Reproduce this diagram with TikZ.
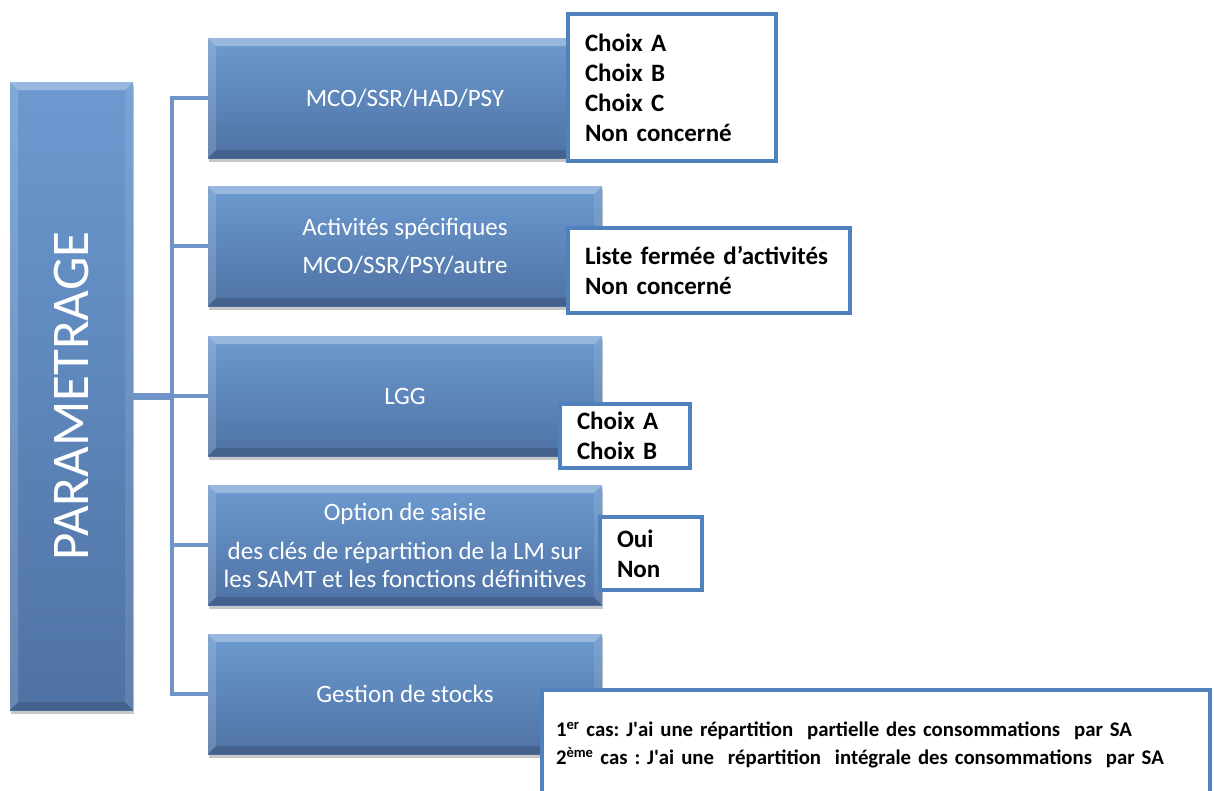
\documentclass[tikz,border=0pt]{standalone}
\usepackage{fontspec}
\setmainfont{Carlito}
\usetikzlibrary{shadows}
\definecolor{boxtop}{RGB}{108,154,208}
\definecolor{boxbot}{RGB}{79,114,164}
\definecolor{edgeblue}{RGB}{79,129,189}
\definecolor{connblue}{RGB}{110,148,200}
\frenchspacing
\tikzset{
  bevel/.style={path picture={
    \path (path picture bounding box.south west) coordinate (pA)
          (path picture bounding box.north east) coordinate (pB);
    \fill[white,opacity=.30] (pA|-pB) -- (pB) -- ([xshift=-8pt,yshift=-8pt]pB) -- ([xshift=8pt,yshift=-8pt]pA|-pB) -- cycle;
    \fill[white,opacity=.15] (pA|-pB) -- ([xshift=8pt,yshift=-8pt]pA|-pB) -- ([xshift=8pt,yshift=8pt]pA) -- (pA) -- cycle;
    \fill[white,opacity=.10] (pB) -- ([xshift=-8pt,yshift=-8pt]pB) -- ([xshift=-8pt,yshift=8pt]pB|-pA) -- (pB|-pA) -- cycle;
    \fill[black,opacity=.15] (pA) -- ([xshift=8pt,yshift=8pt]pA) -- ([xshift=-8pt,yshift=8pt]pB|-pA) -- (pB|-pA) -- cycle;
  }},
  bluebox/.style={rectangle, inner sep=0pt, top color=boxtop, bottom color=boxbot,
    bevel, text=white, align=center, font=\fontsize{25}{30}\selectfont,
    drop shadow={shadow xshift=1pt, shadow yshift=-4pt, fill=black, opacity=0.22},
    minimum width=394pt, minimum height=120pt},
  wbox/.style={rectangle, draw=edgeblue, line width=4pt, fill=white, align=left,
    font=\bfseries\fontsize{25}{30}\selectfont, inner xsep=17pt, inner ysep=0pt},
  connline/.style={draw=connblue, line width=4pt}
}
\begin{document}
\begin{tikzpicture}[x=1pt,y=-1pt]
\useasboundingbox[fill=white] (0,0) rectangle (1214,790);

% main vertical box
\node[bluebox, minimum width=123pt, minimum height=628pt] (param) at (71.5,396) {};
\node[rotate=90, text=white, font=\fontsize{53}{60}\selectfont] (ptext) at (param.center) {PARAMETRAGE};

% category boxes
\node[bluebox] (b1) at (405,98) {MCO/SSR/HAD/PSY};
\node[bluebox] (b2) at (405,246) {Activités spécifiques\\[8pt]MCO/SSR/PSY/autre};
\node[bluebox] (b3) at (405,396) {LGG};
\node[bluebox] (b4) at (405,545) {Option de saisie\\[9pt]des clés de répartition de la LM sur\\[-2pt]les SAMT et les fonctions définitives};
\node[bluebox] (b5) at (405,694) {Gestion de stocks};

% connectors
\coordinate (j) at (172,396);
\draw[connline, line width=7pt] (param.east) -- (j);
\draw[connline] (b1.west) -- (j|-b1.west) -- (j|-b5.west) -- (b5.west);
\draw[connline] (j|-b2.west) -- (b2.west);
\draw[connline] (j|-b3.west) -- (b3.west);
\draw[connline] (j|-b4.west) -- (b4.west);

% option boxes
\node[wbox, minimum width=208pt, minimum height=147pt, text width=174pt] (w1) at (672,87.5)
  {Choix A\\Choix B\\Choix C\\Non concerné};
\node[wbox, minimum width=282pt, minimum height=85pt, text width=248pt] (w2) at (709,270.5)
  {\mbox{Liste fermée d’activités}\\Non concerné};
\node[wbox, minimum width=130pt, minimum height=64pt, text width=96pt] (w3) at (625,436)
  {Choix A\\Choix B};
\node[wbox, minimum width=102pt, minimum height=73pt, text width=68pt] (w4) at (651,553.5)
  {Oui\\Non};
\node[wbox, minimum width=668pt, minimum height=110pt, text width=640pt, inner xsep=14pt,
      font=\bfseries\fontsize{20.8}{28}\selectfont] (w5) at (876,745)
  {\mbox{1\textsuperscript{er} cas: J\textquotesingle ai une répartition\ \ partielle des consommations\ \ par SA}\\
   \mbox{2\textsuperscript{ème} cas : J\textquotesingle ai une\ \ répartition\ \ intégrale des consommations\ \ par SA}};
\end{tikzpicture}
\end{document}
